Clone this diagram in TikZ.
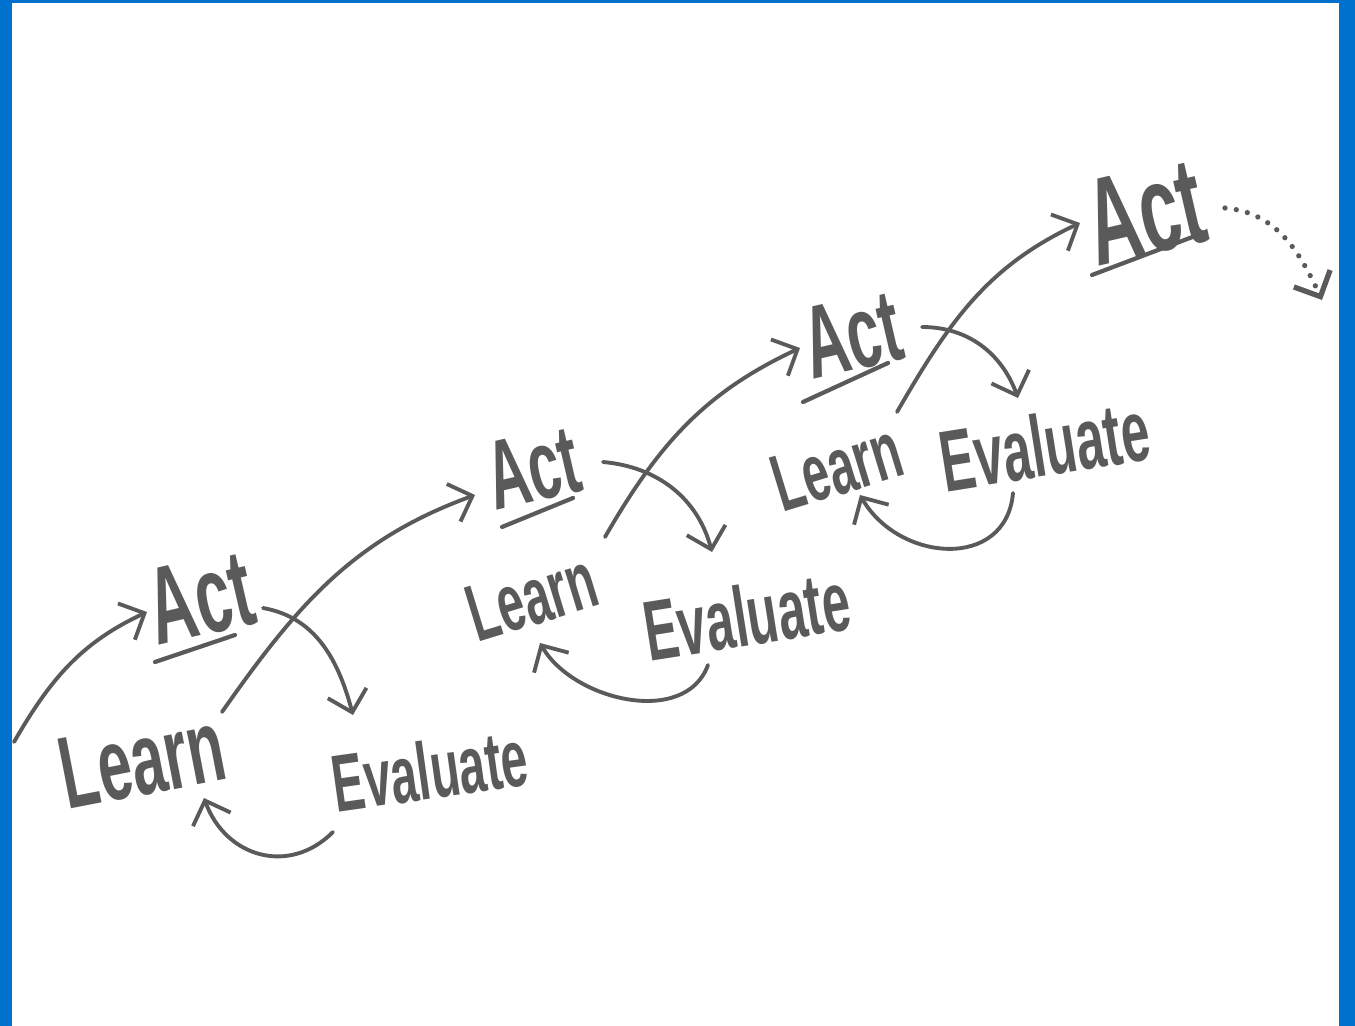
\documentclass[tikz,border=0pt]{standalone}
\usepackage{fontspec}
\setmainfont{Liberation Sans}
\usepackage{tikz}
\usetikzlibrary{arrows.meta,calc}
\definecolor{pencil}{RGB}{90,90,90}
\definecolor{edge}{RGB}{0,114,206}

\begin{document}
\begin{tikzpicture}[x=0.02cm, y=0.02cm,
  word/.style={rotate=#1, yscale=1.7, transform shape, inner sep=0pt,
    text=pencil, font=\fontsize{28}{30}\selectfont\bfseries},
  arr/.style={draw=pencil, line width=2.2pt, line cap=round,
    -{Straight Barb[length=4mm,width=8mm]}},
  uline/.style={draw=pencil, line width=2.4pt, line cap=round},
  dots/.style={arr, line width=3pt, dash pattern=on 0pt off 6.5pt},
]
\useasboundingbox (0,0) rectangle (1355,-1026);
% frame
\fill[edge] (0,0) rectangle (12,-1026);
\fill[edge] (0,0) rectangle (1355,-3);
\fill[edge] (1339,0) rectangle (1355,-1026);

% first round
\node[word=13, scale=1.31] (act1) at (200,-598) {Act};
\node[word=11, scale=1.23] (lrn1) at (142,-760) {Learn};
\node[word=8, scale=0.97] (evl1) at (430,-770) {Evaluate};

% second round
\node[word=13, scale=1.17] (act2) at (533,-468) {Act};
\node[word=17, scale=0.97] (lrn2) at (532,-597) {Learn};
\node[word=9, scale=1.02] (evl2) at (747,-615) {Evaluate};

% third round
\node[word=13, scale=1.23] (act3) at (852,-335) {Act};
\node[word=17, scale=0.97] (lrn3) at (837,-467) {Learn};
\node[word=9, scale=1.04] (evl3) at (1045,-445) {Evaluate};

% last act
\node[word=13, scale=1.48] (act4) at (1145,-212) {Act};

% loose ends
\coordinate (start) at (14,-742);
\coordinate (more) at (1322,-300);

% underlines
\draw[uline] ($(act1)+(-45,-64)$) -- ($(act1)+(35,-37)$);
\draw[uline] ($(act2)+(-31,-59)$) -- ($(act2)+(40,-30)$);
\draw[uline] ($(act3)+(-49,-67)$) -- ($(act3)+(36,-28)$);
\draw[uline] ($(act4)+(-53,-63)$) -- ($(act4)+(58,-21)$);

% loops
\draw[arr] (start) to[out=60,in=205] ($(act1)+(-53,-14)$);
\draw[arr] ($(lrn1)+(80,48)$) to[out=55,in=200] ($(act2)+(-58,-27)$);
\draw[arr] ($(act1)+(63,-10)$) to[out=-10,in=105] ($(evl1)+(-77,55)$);
\draw[arr] ($(evl1)+(-97,-62)$) to[out=225,in=290,looseness=1.2] ($(lrn1)+(62,-38)$);

\draw[arr] ($(lrn2)+(73,60)$) to[out=60,in=205] ($(act3)+(-52,-13)$);
\draw[arr] ($(act2)+(70,6)$) to[out=-5,in=105] ($(evl2)+(-35,63)$);
\draw[arr] ($(evl2)+(-39,-50)$) to[out=250,in=300] ($(lrn2)+(8,-46)$);

\draw[arr] ($(lrn3)+(60,55)$) to[out=60,in=205] ($(act4)+(-65,-11)$);
\draw[arr] ($(act3)+(70,8)$) to[out=0,in=110] ($(evl3)+(-27,47)$);
\draw[arr] ($(evl3)+(-32,-48)$) to[out=265,in=300,looseness=1.3] ($(lrn3)+(23,-28)$);

\draw[dots] ($(act4)+(80,4)$) to[out=-5,in=115] (more);
\end{tikzpicture}
\end{document}
